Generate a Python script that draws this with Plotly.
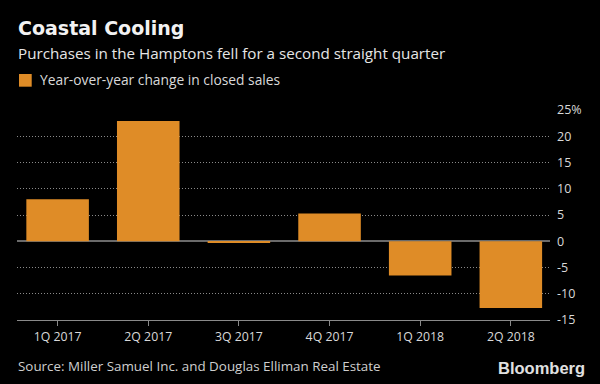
import plotly.graph_objects as go

categories = ["1Q 2017", "2Q 2017", "3Q 2017", "4Q 2017", "1Q 2018", "2Q 2018"]
yoy_change = [8.0, 22.9, -0.15, 5.3, -6.5, -12.7]
y_tickvals = [25, 20, 15, 10, 5, 0, -5, -10, -15]
y_ticktext = ["25%", "20", "15", "10", "5", "0", "-5", "-10", "-15"]
series_name = "Year-over-year change in closed sales"

ORANGE = "#DF8C27"
FONT = "Open Sans"

fig = go.Figure()
fig.add_trace(go.Bar(
    x=list(range(len(categories))), y=yoy_change,
    marker=dict(color=ORANGE, line=dict(width=0)),
    width=0.69,
    name=series_name,
    showlegend=False,
    hoverinfo="skip",
))

fig.update_layout(
    width=600, height=384,
    paper_bgcolor="black", plot_bgcolor="black",
    margin=dict(l=17, r=50, t=110, b=64, autoexpand=False),
    font=dict(family=FONT, color="#d9d9d9", size=12.5),
    showlegend=False,
    xaxis=dict(
        tickmode="array", tickvals=list(range(len(categories))), ticktext=categories,
        range=[-0.448, 5.432],
        showgrid=False, zeroline=False,
        showline=True, linecolor="#8a8a8a", linewidth=1,
        ticks="outside", ticklen=5, tickcolor="#8a8a8a", tickwidth=1,
        tickfont=dict(size=12.3, color="#d9d9d9"),
        fixedrange=True,
    ),
    yaxis=dict(
        side="right", range=[-15, 25],
        tickmode="array", tickvals=y_tickvals, ticktext=y_ticktext,
        showgrid=True, gridcolor="#8a8a8a", griddash="1px,2px", gridwidth=1,
        zeroline=True, zerolinecolor="#6a6a6a", zerolinewidth=1.5,
        showline=False, ticks="", ticklabelstandoff=6,
        tickfont=dict(size=12.5, color="#d9d9d9"),
        fixedrange=True,
    ),
    shapes=[
        dict(type="rect", xref="paper", yref="paper",
             x0=0.0038, x1=0.0276, y0=1.111, y1=1.1714,
             fillcolor=ORANGE, line=dict(width=0)),
    ],
    annotations=[
        dict(text="<b>Coastal Cooling</b>", xref="paper", yref="paper", x=-0.002, y=1.39,
             xanchor="left", yanchor="middle", showarrow=False,
             font=dict(family="DejaVu Sans", size=19, color="#f2f2f2")),
        dict(text="Purchases in the Hamptons fell for a second straight quarter",
             xref="paper", yref="paper", x=-0.002, y=1.27, xanchor="left", yanchor="middle",
             showarrow=False, font=dict(size=15.2, color="#e6e6e6")),
        dict(text=series_name,
             xref="paper", yref="paper", x=0.040, y=1.1429, xanchor="left", yanchor="middle",
             showarrow=False, font=dict(size=13.8, color="#d9d9d9")),
        dict(text="Source: Miller Samuel Inc. and Douglas Elliman Real Estate",
             xref="paper", yref="paper", x=-0.002, y=-0.219, xanchor="left", yanchor="middle",
             showarrow=False, font=dict(size=13.4, color="#cfcfcf")),
        dict(text="<b>Bloomberg</b>", xref="paper", yref="paper", x=1.069, y=-0.229,
             xanchor="right", yanchor="middle", showarrow=False,
             font=dict(family="Liberation Sans", size=16.5, color="#e0e0e0")),
    ],
)

fig.write_html("out.html", config={"displayModeBar": False},
               post_script="document.body.style.margin='0';document.body.style.background='black';")
